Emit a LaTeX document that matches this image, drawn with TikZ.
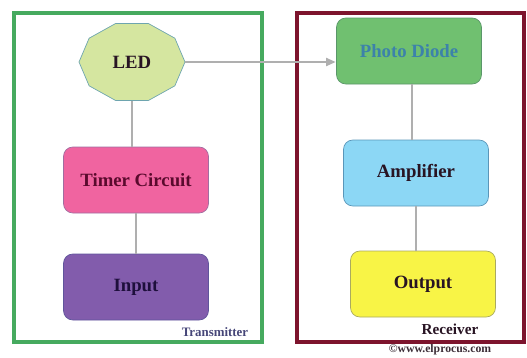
\documentclass[tikz,border=0pt]{standalone}
\usepackage{fontspec}
\setmainfont{Liberation Serif}
\usetikzlibrary{arrows.meta}

\definecolor{txgreen}{RGB}{70,170,95}
\definecolor{rxred}{RGB}{125,20,45}
\definecolor{ledfill}{RGB}{213,230,160}
\definecolor{ledline}{RGB}{110,165,175}
\definecolor{timerfill}{RGB}{240,100,160}
\definecolor{timerline}{RGB}{160,110,160}
\definecolor{inputfill}{RGB}{130,92,172}
\definecolor{inputline}{RGB}{95,85,155}
\definecolor{photofill}{RGB}{112,192,112}
\definecolor{photoline}{RGB}{90,150,105}
\definecolor{phototext}{RGB}{60,130,170}
\definecolor{ampfill}{RGB}{140,215,245}
\definecolor{ampline}{RGB}{90,150,185}
\definecolor{outfill}{RGB}{248,244,70}
\definecolor{outline}{RGB}{170,170,95}
\definecolor{ink}{RGB}{40,20,35}
\definecolor{wire}{RGB}{175,175,175}

\begin{document}
\begin{tikzpicture}[x=0.03cm,y=-0.03cm,
	blk/.style={draw,rounded corners=8pt,line width=0.6pt,minimum width=4.35cm,minimum height=1.98cm,
		text=ink,font=\fontsize{16}{18}\selectfont\bfseries},
	wire/.style={draw=wire,line width=1pt},
	tag/.style={font=\fontsize{11}{12}\selectfont\bfseries}]
				%%%%% START %%%%%
				\useasboundingbox (0,0) rectangle (527,357);
				
				% two frames
				\draw[txgreen,line width=2.8pt] (14,13) rectangle (262,342);
				\draw[rxred,line width=2.6pt] (297,13) rectangle (524,342);
				
				% transmitter side
				\node (led) [minimum width=3.18cm,minimum height=2.31cm] at (132,62) {};
				\filldraw[fill=ledfill,draw=ledline,line width=0.6pt,shift={(led.center)}]
					(0:53 and 40.5) \foreach \k in {1,...,9} { -- (\k*36:53 and 40.5) } -- cycle;
				\node[text=ink,font=\fontsize{16}{18}\selectfont\bfseries] at (led.center) {LED};
				\node (timer) [blk,fill=timerfill,draw=timerline,text={rgb,255:red,90;green,10;blue,45}] at (136,180) {Timer Circuit};
				\node (input) [blk,fill=inputfill,draw=inputline,text={rgb,255:red,30;green,15;blue,60}] at (136,287) {Input};
				
				% receiver side
				\node (photo) [blk,fill=photofill,draw=photoline,text=phototext] at (409,51) {Photo Diode};
				\node (amp) [blk,fill=ampfill,draw=ampline] at (416,173) {Amplifier};
				\node (out) [blk,fill=outfill,draw=outline] at (423,284) {Output};
				
				% links
				\draw[wire] (led.south) -- (led.south |- timer.north);
				\draw[wire] (timer.south) -- (timer.south |- input.north);
				\draw[wire] (photo.south) ++(3,0) coordinate (p1) -- (p1 |- amp.north);
				\draw[wire] (amp.south) -- (amp.south |- out.north);
				\draw[wire,-{Triangle[length=8pt,width=7pt]},shorten >=0.5pt] (led.east) -- (led.east -| photo.west);
				
				% captions
				\node (txtag) [tag,text={rgb,255:red,70;green,70;blue,120}] at (215,332) {Transmitter};
				\node (rxtag) [tag,font=\fontsize{13}{14}\selectfont\bfseries,text=ink] at (450,329) {Receiver};
				\node (site) [font=\fontsize{10}{11}\selectfont\bfseries,text={rgb,255:red,60;green,45;blue,55}] at (440,350) {©www.elprocus.com};
				%%%%% END %%%%%
\end{tikzpicture}
\end{document}
